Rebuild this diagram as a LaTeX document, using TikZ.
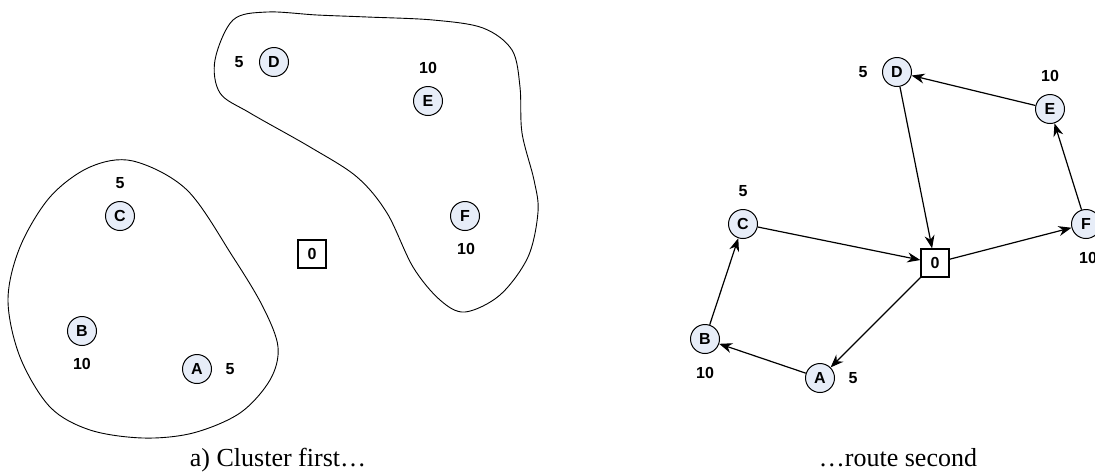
\documentclass[tikz,border=0pt]{standalone}
\usepackage{fontspec}
\setmainfont{Liberation Serif}
\newfontfamily\arialfont{Liberation Sans}
\usetikzlibrary{arrows.meta}
\definecolor{nodefill}{RGB}{231,237,248}
\begin{document}
\begin{tikzpicture}[x=1pt,y=-1pt,
  lab/.style={font=\arialfont\bfseries\fontsize{16}{16}\selectfont},
  cust/.style={lab,circle,draw,line width=1pt,fill=nodefill,minimum size=29pt,inner sep=0pt},
  depot/.style={lab,rectangle,draw,line width=1.3pt,fill=white,minimum size=28pt,inner sep=0pt},
  route/.style={-{Stealth[length=13pt,width=10pt]},line width=1.2pt},
  blob/.style={line width=0.9pt},
  captext/.style={font=\fontsize{26}{26}\selectfont,anchor=base}
]
\useasboundingbox (0,0) rectangle (1095,472);

% ---------- left panel: clusters ----------
\draw[blob] plot[smooth cycle,tension=0.55] coordinates {
  (133,161) (187,190) (233,257) (263,307) (278,347) (270,380) (240,413)
  (193,433) (143,438) (90,430) (50,407) (20,357) (8,300) (20,247) (50,197) (90,167)};
\draw[blob] plot[smooth cycle,tension=0.55] coordinates {
  (233,20) (267,12) (317,15) (367,17) (433,20) (483,28) (512,50) (520,87)
  (522,133) (534,180) (538,212) (528,257) (500,295) (465,312) (440,300)
  (413,267) (387,213) (357,177) (310,147) (250,113) (220,93) (215,60)};

\node[cust] (lD) at (274,62) {D};
\node[cust] (lE) at (428,101) {E};
\node[cust] (lF) at (465,216) {F};
\node[depot] (l0) at (312,254) {0};
\node[cust] (lC) at (120,216) {C};
\node[cust] (lB) at (82,331) {B};
\node[cust] (lA) at (197,369) {A};

\node[lab] (ldD) at (239,62) {5};
\node[lab] (ldE) at (428,68) {10};
\node[lab] (ldF) at (466,249) {10};
\node[lab] (ldC) at (120,183) {5};
\node[lab] (ldB) at (82,364) {10};
\node[lab] (ldA) at (230,369) {5};

\node[captext] (capL) at (278,466) {a) Cluster first…};

% ---------- right panel: routes ----------
\node[cust] (rD) at (897,72) {D};
\node[cust] (rE) at (1050,109) {E};
\node[cust] (rF) at (1086,224) {F};
\node[depot] (r0) at (935,263) {0};
\node[cust] (rC) at (743,224) {C};
\node[cust] (rB) at (705,339) {B};
\node[cust] (rA) at (820,378) {A};

\node[lab] (rdD) at (863,72) {5};
\node[lab] (rdE) at (1050,76) {10};
\node[lab] (rdF) at (1088,258) {10};
\node[lab] (rdC) at (743,191) {5};
\node[lab] (rdB) at (705,373) {10};
\node[lab] (rdA) at (853,378) {5};

\draw[route] (rD) -- (r0);
\draw[route] (rE) -- (rD);
\draw[route] (rF) -- (rE);
\draw[route] (r0) -- (rF);
\draw[route] (rC) -- (r0);
\draw[route] (r0) -- (rA);
\draw[route] (rA) -- (rB);
\draw[route] (rB) -- (rC);

\node[captext] (capR) at (898,466) {…route second};
\end{tikzpicture}
\end{document}
